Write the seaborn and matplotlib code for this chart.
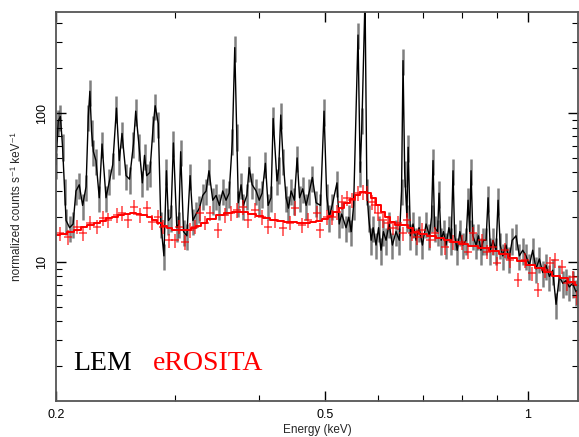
import numpy as np
import pandas as pd
import matplotlib
matplotlib.use('Agg')
import matplotlib.pyplot as plt
import seaborn as sns
from matplotlib.ticker import FixedLocator, NullFormatter, LogLocator

# LEM spectrum (energy in keV, normalized counts s^-1 keV^-1)
lem_energy = [
    0.2000, 0.2015, 0.2030, 0.2045, 0.2060, 0.2070, 0.2095, 0.2120,
    0.2141, 0.2165, 0.2190, 0.2216, 0.2233, 0.2245, 0.2258, 0.2272,
    0.2292, 0.2318, 0.2340, 0.2372, 0.2400, 0.2427, 0.2458, 0.2482,
    0.2505, 0.2540, 0.2570, 0.2605, 0.2625, 0.2655, 0.2685, 0.2705,
    0.2725, 0.2755, 0.2785, 0.2805, 0.2835, 0.2860, 0.2890, 0.2915,
    0.2935, 0.2960, 0.2985, 0.3020, 0.3040, 0.3060, 0.3090, 0.3125,
    0.3160, 0.3190, 0.3225, 0.3262, 0.3299, 0.3337, 0.3370, 0.3414,
    0.3453, 0.3492, 0.3532, 0.3572, 0.3610, 0.3650, 0.3680, 0.3705,
    0.3725, 0.3760, 0.3790, 0.3835, 0.3865, 0.3905, 0.3958, 0.4000,
    0.4040, 0.4085, 0.4123, 0.4165, 0.4195, 0.4250, 0.4275, 0.4305,
    0.4340, 0.4384, 0.4420, 0.4460, 0.4510, 0.4552, 0.4590, 0.4640,
    0.4694, 0.4748, 0.4795, 0.4857, 0.4930, 0.4990, 0.5035, 0.5080,
    0.5130, 0.5215, 0.5255, 0.5300, 0.5379, 0.5430, 0.5475, 0.5520,
    0.5603, 0.5645, 0.5680, 0.5739, 0.5775, 0.5810, 0.5860, 0.5900,
    0.5958, 0.6010, 0.6060, 0.6110, 0.6165, 0.6230, 0.6300, 0.6379,
    0.6450, 0.6500, 0.6533, 0.6570, 0.6620, 0.6648, 0.6700, 0.6760,
    0.6830, 0.6900, 0.6980, 0.7067, 0.7150, 0.7200, 0.7237, 0.7275,
    0.7350, 0.7387, 0.7440, 0.7500, 0.7566, 0.7640, 0.7700, 0.7748,
    0.7790, 0.7860, 0.7930, 0.8010, 0.8100, 0.8156, 0.8200, 0.8239,
    0.8290, 0.8381, 0.8450, 0.8520, 0.8590, 0.8672, 0.8732, 0.8800,
    0.8880, 0.8973, 0.9035, 0.9100, 0.9180, 0.9283, 0.9380, 0.9480,
    0.9605, 0.9715, 0.9826, 0.9939, 1.0052, 1.0167, 1.0284, 1.0401,
    1.0520, 1.0641, 1.0763, 1.0885, 1.1010, 1.1136, 1.1264, 1.1392,
    1.1520, 1.1650, 1.1787, 1.1866,
]
lem_counts = [
    45, 88, 95, 60, 30, 19, 17, 18,
    30, 33, 24, 32, 95, 140, 75, 55,
    48, 27, 62, 27, 35, 45, 108, 48,
    73, 38, 36, 62, 103, 60, 34, 52,
    38, 40, 80, 112, 85, 18, 11, 41,
    19, 20, 63, 17, 18, 55, 16, 15,
    38, 19, 21, 23, 28, 30, 41, 26,
    28, 24, 30, 26, 29, 65, 275, 70,
    25, 33, 24, 28, 43, 33, 30, 26,
    29, 46, 24, 27, 92, 35, 42, 97,
    48, 27, 23, 30, 26, 50, 27, 31,
    24, 30, 37, 25, 24, 103, 28, 20,
    24, 34, 18, 21, 17, 20, 16, 24,
    334, 40, 90, 600, 30, 20, 14, 17,
    13, 17, 12, 16, 14, 18, 13, 16,
    14, 30, 225, 40, 20, 59, 15, 18,
    14, 17, 13, 18, 15, 20, 48, 17,
    16, 29, 14, 16, 13, 17, 14, 41,
    15, 12, 16, 13, 14, 26, 16, 41,
    15, 13, 15, 12, 14, 14, 27, 12,
    14, 12, 26, 13, 11, 13, 10.5, 14,
    15, 11, 12, 11, 9.5, 12, 9.0, 10.5,
    8.5, 9.5, 8.0, 8.8, 5.2, 8.0, 7.2, 7.5,
    6.8, 7.2, 6.3, 6.5,
]
lem_rel_err = 0.2

# eROSITA spectrum
ero_energy = [
    0.2027, 0.2084, 0.2148, 0.2193, 0.2246, 0.2300, 0.2348, 0.2388,
    0.2463, 0.2505, 0.2557, 0.2610, 0.2664, 0.2728, 0.2775, 0.2832,
    0.2881, 0.2940, 0.3001, 0.3042, 0.3105, 0.3159, 0.3213, 0.3269,
    0.3325, 0.3382, 0.3476, 0.3560, 0.3633, 0.3708, 0.3785, 0.3850,
    0.3943, 0.4038, 0.4122, 0.4222, 0.4338, 0.4443, 0.4520, 0.4629,
    0.4725, 0.4872, 0.4922, 0.5041, 0.5127, 0.5216, 0.5305, 0.5397,
    0.5489, 0.5603, 0.5699, 0.5778, 0.5877, 0.5937, 0.5999, 0.6102,
    0.6207, 0.6314, 0.6422, 0.6533, 0.6623, 0.6736, 0.6852, 0.6970,
    0.7163, 0.7286, 0.7539, 0.7748, 0.7990, 0.8155, 0.8295, 0.8554,
    0.8701, 0.8881, 0.9003, 0.9252, 0.9411, 0.9672, 0.9905, 1.0145,
    1.0354, 1.0604, 1.0787, 1.0973, 1.1238, 1.1431, 1.1668, 1.1828,
]
ero_counts = [
    15.6, 14.7, 17.2, 15.6, 18.3, 17.2, 19.7, 19.1,
    20.7, 21.3, 19.1, 23.4, 20.7, 23.0, 18.5, 20.0,
    17.2, 14.0, 14.0, 17.2, 13.6, 16.4, 17.2, 21.3,
    18.3, 21.3, 16.4, 20.7, 21.3, 22.3, 23.4, 19.1,
    22.3, 20.0, 17.2, 19.1, 16.9, 18.3, 23.0, 17.7,
    19.1, 21.3, 16.4, 20.0, 20.0, 21.6, 25.3, 26.9,
    26.0, 29.0, 29.5, 29.0, 25.3, 24.0, 21.3, 19.1,
    18.3, 17.0, 18.3, 15.6, 19.1, 15.6, 14.7, 16.4,
    14.0, 15.6, 12.6, 13.6, 13.6, 11.7, 15.6, 14.0,
    11.7, 12.6, 9.8, 12.0, 10.3, 7.6, 10.3, 8.4,
    6.5, 8.8, 9.8, 10.3, 9.3, 7.2, 7.9, 5.8,
]
ero_rel_err = 0.11
ero_rel_width = 0.014

# eROSITA folded model
ero_model_energy = [
    0.200, 0.205, 0.210, 0.215, 0.220, 0.225, 0.230, 0.235, 0.240, 0.245,
    0.250, 0.255, 0.260, 0.265, 0.270, 0.275, 0.280, 0.285, 0.290, 0.295,
    0.300, 0.305, 0.310, 0.315, 0.320, 0.325, 0.330, 0.340, 0.350, 0.360,
    0.370, 0.380, 0.390, 0.400, 0.410, 0.420, 0.430, 0.440, 0.450, 0.460,
    0.470, 0.480, 0.490, 0.500, 0.510, 0.520, 0.530, 0.540, 0.550, 0.560,
    0.570, 0.580, 0.590, 0.600, 0.610, 0.620, 0.630, 0.640, 0.650, 0.660,
    0.670, 0.680, 0.700, 0.720, 0.740, 0.760, 0.780, 0.800, 0.830, 0.860,
    0.890, 0.920, 0.950, 0.980, 1.010, 1.040, 1.070, 1.100, 1.130, 1.160,
    1.190,
]
ero_model = [
    15.2, 15.4, 15.8, 16.5, 17.2, 17.8, 18.4, 19.0, 19.6, 20.2,
    20.7, 21.0, 21.2, 21.0, 20.6, 20.0, 19.2, 18.3, 17.5, 16.9,
    16.5, 16.3, 16.3, 16.5, 16.9, 17.5, 18.2, 19.5, 20.6, 21.4,
    21.8, 21.6, 21.0, 20.3, 19.7, 19.2, 18.8, 18.6, 18.5, 18.4,
    18.4, 18.5, 18.8, 19.4, 20.3, 21.6, 23.2, 24.9, 26.6, 28.2,
    29.3, 29.0, 27.0, 24.2, 21.8, 20.0, 18.5, 17.6, 17.6, 17.6,
    17.0, 16.0, 15.4, 15.0, 14.5, 14.0, 13.7, 13.3, 12.8, 12.4,
    11.9, 11.3, 10.7, 10.1, 9.6, 9.1, 8.6, 8.1, 7.8, 7.3,
    7.0,
]

lem = pd.DataFrame({'energy': lem_energy, 'counts': lem_counts})
ero = pd.DataFrame({'energy': ero_energy, 'counts': ero_counts})
ero_mod = pd.DataFrame({'energy': ero_model_energy, 'counts': ero_model})

sns.set_style('ticks')
plt.rcParams['font.family'] = ['Liberation Sans', 'DejaVu Sans']

fig = plt.figure(figsize=(5.79, 4.37), dpi=100)
ax = fig.add_axes([56 / 579, 1 - 401 / 437, 522 / 579, 389 / 437])

# LEM: grey error bars + black line through the bins
ax.errorbar(lem['energy'], lem['counts'], yerr=lem_rel_err * lem['counts'],
            fmt='none', ecolor='black', alpha=0.5, elinewidth=1.8)
sns.lineplot(data=lem, x='energy', y='counts', ax=ax, color='black', lw=1.0)

# eROSITA: red crosses + model
ax.errorbar(ero['energy'], ero['counts'], yerr=ero_rel_err * ero['counts'],
            xerr=ero_rel_width * ero['energy'], fmt='none', ecolor='red',
            alpha=0.75, elinewidth=1.1)
sns.lineplot(data=ero_mod, x='energy', y='counts', ax=ax, color='red',
             lw=1.4, drawstyle='steps-mid')

ax.set_xscale('log')
ax.set_yscale('log')
ax.set_xlim(0.2, 1.1866)
ax.set_ylim(1.167, 477)

ax.xaxis.set_major_locator(FixedLocator([0.2, 0.5, 1.0]))
ax.xaxis.set_minor_locator(FixedLocator([0.3, 0.4, 0.6, 0.7, 0.8, 0.9]))
ax.xaxis.set_minor_formatter(NullFormatter())
ax.set_xticklabels(['0.2', '0.5', '1'])
ax.yaxis.set_major_locator(FixedLocator([10, 100]))
ax.yaxis.set_minor_locator(LogLocator(base=10, subs=np.arange(2, 10)))
ax.yaxis.set_minor_formatter(NullFormatter())
ax.set_yticklabels(['10', '100'], rotation=90, va='center')

ax.tick_params(which='both', direction='in', top=True, right=True,
               labelsize=9, colors='black')
ax.tick_params(which='major', length=7, width=1, pad=6)
ax.tick_params(which='minor', length=4, width=0.8)
for s in ax.spines.values():
    s.set_color('#555555')
    s.set_linewidth(1.3)

ax.set_xlabel('Energy (keV)', fontsize=8.5, labelpad=2)
ax.set_ylabel('normalized counts s⁻¹ keV⁻¹', fontsize=8.5, labelpad=9)

ax.text(0.033, 0.08, 'LEM', transform=ax.transAxes, fontsize=20,
        family='Liberation Serif', color='black', va='baseline')
ax.text(0.186, 0.08, 'eROSITA', transform=ax.transAxes, fontsize=20,
        family='Liberation Serif', color='red', va='baseline')

fig.savefig('out.png', dpi=100)
